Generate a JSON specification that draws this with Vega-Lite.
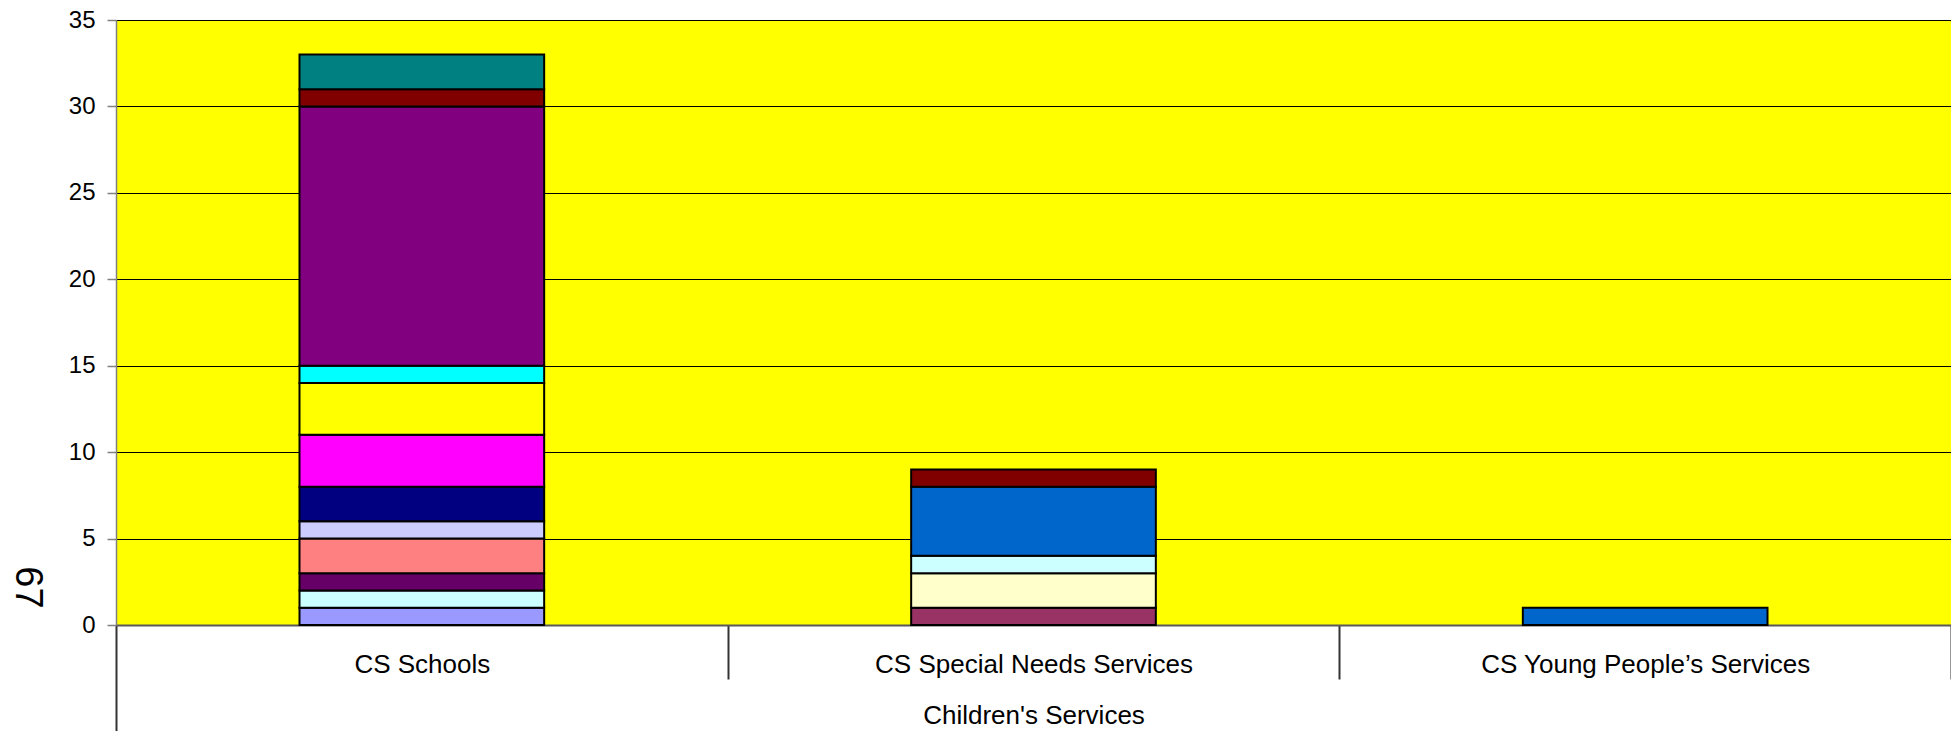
{
  "$schema": "https://vega.github.io/schema/vega-lite/v6.json",
  "autosize": "none",
  "padding": {"left": 116, "top": 20, "right": 0, "bottom": 106},
  "width": 1835,
  "height": 605,
  "background": "white",
  "config": {
    "font": "Liberation Sans",
    "view": {"fill": "#FFFF00", "stroke": null}
  },
  "data": {
    "values": [
      {"category": "CS Schools", "series": "S1", "idx": 1, "value": 1},
      {"category": "CS Schools", "series": "S4", "idx": 4, "value": 1},
      {"category": "CS Schools", "series": "S5", "idx": 5, "value": 1},
      {"category": "CS Schools", "series": "S6", "idx": 6, "value": 2},
      {"category": "CS Schools", "series": "S8", "idx": 8, "value": 1},
      {"category": "CS Schools", "series": "S9", "idx": 9, "value": 2},
      {"category": "CS Schools", "series": "S10", "idx": 10, "value": 3},
      {"category": "CS Schools", "series": "S11", "idx": 11, "value": 3},
      {"category": "CS Schools", "series": "S12", "idx": 12, "value": 1},
      {"category": "CS Schools", "series": "S13", "idx": 13, "value": 15},
      {"category": "CS Schools", "series": "S14", "idx": 14, "value": 1},
      {"category": "CS Schools", "series": "S15", "idx": 15, "value": 2},
      {"category": "CS Special Needs Services", "series": "S2", "idx": 2, "value": 1},
      {"category": "CS Special Needs Services", "series": "S3", "idx": 3, "value": 2},
      {"category": "CS Special Needs Services", "series": "S4", "idx": 4, "value": 1},
      {"category": "CS Special Needs Services", "series": "S7", "idx": 7, "value": 4},
      {"category": "CS Special Needs Services", "series": "S14", "idx": 14, "value": 1},
      {"category": "CS Young People’s Services", "series": "S7", "idx": 7, "value": 1}
    ]
  },
  "mark": {"type": "bar", "width": {"band": 0.4}, "stroke": "black", "strokeWidth": 2},
  "encoding": {
    "x": {
      "field": "category",
      "type": "nominal",
      "sort": null,
      "scale": {"paddingInner": 0, "paddingOuter": 0},
      "axis": {
        "title": "Children's Services",
        "titleFontSize": 26,
        "titleFontWeight": "normal",
        "titleColor": "black",
        "titleBaseline": "alphabetic",
        "titleY": 98,
        "labelAngle": 0,
        "labelFontSize": 26,
        "labelColor": "black",
        "labelBaseline": "alphabetic",
        "labelPadding": -7,
        "labelLimit": 0,
        "tickBand": "extent",
        "tickColor": "#333333",
        "tickWidth": 2,
        "tickSize": {"condition": {"test": "datum.extra", "value": 106}, "value": 54},
        "domainColor": "#595959",
        "domainWidth": 2,
        "grid": false
      }
    },
    "y": {
      "field": "value",
      "type": "quantitative",
      "stack": "zero",
      "scale": {"domain": [0, 35], "nice": false},
      "axis": {
        "values": [0, 5, 10, 15, 20, 25, 30, 35],
        "title": "67",
        "titleFontSize": 38,
        "titleFontWeight": "normal",
        "titleColor": "black",
        "titleAngle": 90,
        "titleAlign": "center",
        "titleBaseline": "middle",
        "titleX": -90,
        "titleY": 567,
        "labelFontSize": 24,
        "labelColor": "black",
        "labelPadding": 12,
        "tickSize": 9,
        "tickColor": "#808080",
        "tickWidth": 1.5,
        "domainColor": "#808080",
        "domainWidth": 1.5,
        "grid": true,
        "gridColor": "black",
        "gridWidth": 1,
        "gridOpacity": 1
      }
    },
    "color": {
      "field": "series",
      "type": "nominal",
      "legend": null,
      "scale": {
        "domain": ["S1", "S2", "S3", "S4", "S5", "S6", "S7", "S8", "S9", "S10", "S11", "S12", "S13", "S14", "S15"],
        "range": ["#9999FF", "#993366", "#FFFFCC", "#CCFFFF", "#660066", "#FF8080", "#0066CC", "#CCCCFF", "#000080", "#FF00FF", "#FFFF00", "#00FFFF", "#800080", "#800000", "#008080"]
      }
    },
    "order": {"field": "idx", "type": "quantitative"}
  }
}
